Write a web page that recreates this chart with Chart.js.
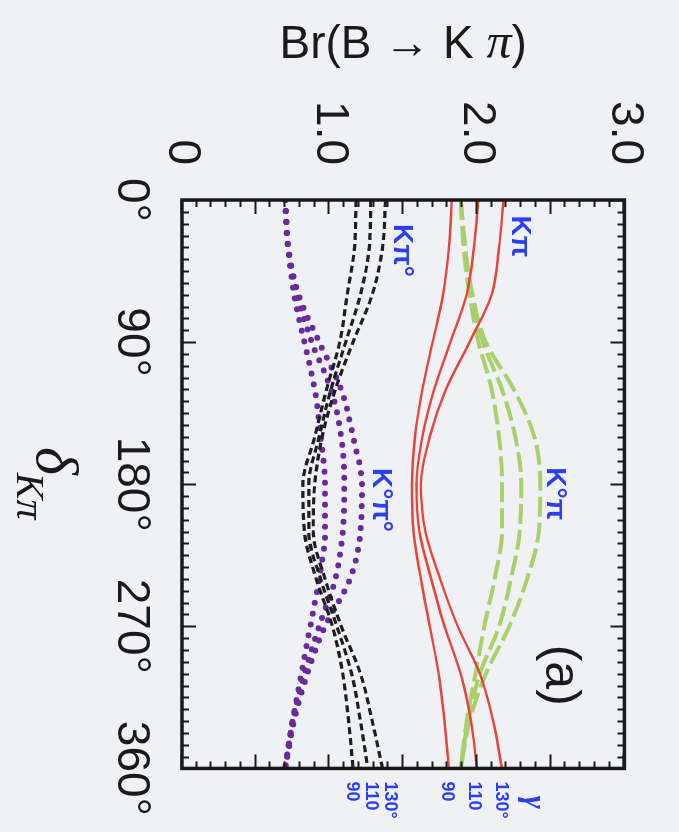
<!DOCTYPE html>
<html>
<head>
<meta charset="utf-8">
<script src="https://cdn.jsdelivr.net/npm/chart.js@4.4.0/dist/chart.umd.min.js"></script>
<style>
  html, body { margin: 0; padding: 0; background: #eff1f5; overflow: hidden; }
  /* the figure is drawn upright, then turned a quarter clockwise like the scan */
  #wrap { position: absolute; left: 0; top: 0; width: 832px; height: 679px;
          transform-origin: 0 0; transform: translate(679px, 0) rotate(90deg); }
</style>
</head>
<body>
<div id="wrap"><canvas id="kpiChart" width="832" height="679"></canvas></div>
<script>
// strong phase delta (deg)
const deltas = [0, 30, 60, 90, 120, 150, 180, 210, 240, 270, 300, 330, 360];

// Br(K+ pi-), red solid
const kPiA = [1.83, 1.81, 1.77, 1.70, 1.63, 1.58, 1.56, 1.57, 1.62, 1.68, 1.74, 1.78, 1.81];
const kPiB = [2.01, 1.98, 1.93, 1.82, 1.71, 1.63, 1.59, 1.61, 1.69, 1.78, 1.89, 1.96, 2.00];
const kPiC = [2.18, 2.15, 2.10, 1.95, 1.79, 1.68, 1.62, 1.65, 1.75, 1.87, 2.02, 2.11, 2.17];

// Br(K0 pi+), green dashed
const k0PiA = [1.89, 1.91, 1.95, 2.01, 2.10, 2.15, 2.17, 2.17, 2.12, 2.05, 1.99, 1.93, 1.89];
const k0PiB = [1.89, 1.92, 1.96, 2.04, 2.17, 2.26, 2.30, 2.29, 2.23, 2.15, 2.02, 1.94, 1.89];
const k0PiC = [1.89, 1.92, 1.97, 2.06, 2.25, 2.39, 2.43, 2.42, 2.34, 2.22, 2.06, 1.95, 1.89];

// Br(K+ pi0), black dashed
const kPi0A = [1.18, 1.17, 1.12, 1.07, 0.98, 0.90, 0.82, 0.83, 0.91, 1.02, 1.09, 1.13, 1.16];
const kPi0B = [1.28, 1.27, 1.21, 1.11, 1.01, 0.93, 0.86, 0.86, 0.94, 1.05, 1.15, 1.21, 1.26];
const kPi0C = [1.38, 1.36, 1.29, 1.16, 1.04, 0.95, 0.90, 0.89, 0.97, 1.08, 1.21, 1.29, 1.36];

// Br(K0 pi0), purple dotted
const k0Pi0A = [0.70, 0.72, 0.76, 0.83, 0.90, 0.94, 0.97, 0.97, 0.93, 0.87, 0.81, 0.75, 0.70];
const k0Pi0B = [0.70, 0.72, 0.78, 0.88, 1.01, 1.08, 1.10, 1.09, 1.04, 0.93, 0.83, 0.75, 0.70];
const k0Pi0C = [0.70, 0.72, 0.79, 0.93, 1.08, 1.16, 1.22, 1.21, 1.14, 0.97, 0.85, 0.76, 0.70];

const deltaTicks = [0, 90, 180, 270, 360];
const brTicks = [0, 1, 2, 3];
const gammaLabels = ['90', '110', '130°'];

const BLUE = '#2b3ff2';
const SANS = '"Liberation Sans", Arial, sans-serif';
const SERIF = '"Liberation Serif", "Times New Roman", serif';

function pts(arr) {
    return deltas.map((d, i) => ({ x: d, y: arr[i] }));
}

function curve(arr, style) {
    return Object.assign({
        data: pts(arr),
        pointRadius: 0,
        fill: false,
        cubicInterpolationMode: 'monotone'
    }, style);
}

const red = { borderColor: '#e8443a', borderWidth: 2.4 };
const green = { borderColor: '#a8d06c', borderWidth: 4, borderDash: [20, 6] };
const black = { borderColor: '#1e1e1e', borderWidth: 3.2, borderDash: [7, 4] };
const purple = { borderColor: '#6b2a9b', borderWidth: 6, borderDash: [0, 11], borderCapStyle: 'round' };

// frame, inner ticks and all the hand placed text
const decorations = {
    id: 'decorations',
    afterDraw(chart) {
        const { ctx, chartArea: a, scales: { x, y } } = chart;
        ctx.save();
        ctx.strokeStyle = '#1a1a1a';
        ctx.lineWidth = 2;
        ctx.beginPath();
        for (let d = 0; d <= 360; d += 7.5) {
            const px = Math.round(x.getPixelForValue(d)) + 0.5;
            const len = d % 90 === 0 ? 14 : 7;
            ctx.moveTo(px, a.bottom); ctx.lineTo(px, a.bottom - len);
            ctx.moveTo(px, a.top); ctx.lineTo(px, a.top + len);
        }
        for (let i = 0; i <= 30; i++) {
            const py = Math.round(y.getPixelForValue(i / 10)) + 0.5;
            const len = i % 5 === 0 ? 14 : 7;
            ctx.moveTo(a.left, py); ctx.lineTo(a.left + len, py);
            ctx.moveTo(a.right, py); ctx.lineTo(a.right - len, py);
        }
        ctx.stroke();
        ctx.lineWidth = 3.5;
        ctx.strokeRect(a.left, a.top, a.right - a.left, a.bottom - a.top);

        // y title, Br(B -> K pi)
        ctx.fillStyle = '#1a1a1a';
        ctx.save();
        ctx.translate(45, (a.top + a.bottom) / 2);
        ctx.rotate(-Math.PI / 2);
        ctx.textBaseline = 'middle';
        const parts = [['Br(B \u2192 K ', '46px ' + SANS], ['\u03c0', 'italic 50px ' + SERIF], [')', '46px ' + SANS]];
        let total = 0;
        parts.forEach(p => { ctx.font = p[1]; total += ctx.measureText(p[0]).width; });
        let cx = -total / 2;
        parts.forEach(p => { ctx.font = p[1]; ctx.fillText(p[0], cx, 0); cx += ctx.measureText(p[0]).width; });
        ctx.restore();

        // x title, delta_{K pi}
        const tx = (a.left + a.right) / 2;
        ctx.textBaseline = 'alphabetic';
        ctx.font = 'italic 60px ' + SERIF;
        const wd = ctx.measureText('\u03b4').width;
        ctx.font = 'italic 40px ' + SERIF;
        const ws = ctx.measureText('K\u03c0').width;
        ctx.font = 'italic 60px ' + SERIF;
        ctx.fillText('\u03b4', tx - (wd + ws) / 2, 642);
        ctx.font = 'italic 40px ' + SERIF;
        ctx.fillText('K\u03c0', tx - (wd + ws) / 2 + wd - 2, 662);

        // panel tag
        ctx.font = '50px ' + SANS;
        ctx.textAlign = 'center';
        ctx.textBaseline = 'middle';
        ctx.fillText('(a)', x.getPixelForValue(301), y.getPixelForValue(2.56));

        // curve names
        ctx.fillStyle = BLUE;
        ctx.font = 'bold 28px ' + SANS;
        ctx.fillText('K\u03c0', x.getPixelForValue(23), y.getPixelForValue(2.29));
        ctx.fillText('K\u03c0\u00b0', x.getPixelForValue(32), y.getPixelForValue(1.49));
        ctx.fillText('K\u00b0\u03c0\u00b0', x.getPixelForValue(190), y.getPixelForValue(1.35));
        ctx.fillText('K\u00b0\u03c0', x.getPixelForValue(186), y.getPixelForValue(2.53));

        // gamma values at the right ends
        ctx.textAlign = 'left';
        ctx.font = 'bold 18px ' + SANS;
        const ux = a.right + 13;
        [1.15, 1.28, 1.41].forEach((b, i) => ctx.fillText(gammaLabels[i], ux, y.getPixelForValue(b)));
        [1.80, 1.98, 2.16].forEach((b, i) => ctx.fillText(gammaLabels[i], ux, y.getPixelForValue(b)));
        ctx.font = 'bold italic 32px ' + SERIF;
        ctx.fillText('\u03b3', ux + 14, y.getPixelForValue(2.38));
        ctx.restore();
    }
};

new Chart(document.getElementById('kpiChart'), {
    type: 'line',
    data: {
        datasets: [
            curve(kPiA, red), curve(kPiB, red), curve(kPiC, red),
            curve(k0PiA, green), curve(k0PiB, green), curve(k0PiC, green),
            curve(kPi0A, black), curve(kPi0B, black), curve(kPi0C, black),
            curve(k0Pi0A, purple), curve(k0Pi0B, purple), curve(k0Pi0C, purple)
        ]
    },
    options: {
        responsive: false,
        animation: false,
        events: [],
        layout: { padding: { left: 0, top: 39, right: 62, bottom: 0 } },
        plugins: { legend: { display: false }, tooltip: { enabled: false } },
        scales: {
            x: {
                type: 'linear',
                min: 0,
                max: 360,
                afterBuildTicks: s => { s.ticks = deltaTicks.map(v => ({ value: v })); },
                afterFit: s => { s.height = 182; },
                grid: { display: false },
                border: { display: false },
                ticks: {
                    color: '#1a1a1a',
                    padding: 16,
                    maxRotation: 0,
                    font: { family: SANS, size: 46 },
                    callback: v => v + '\u00b0'
                }
            },
            y: {
                type: 'linear',
                min: 0,
                max: 3,
                afterBuildTicks: s => { s.ticks = brTicks.map(v => ({ value: v })); },
                afterFit: s => { s.width = 200; },
                grid: { display: false },
                border: { display: false },
                ticks: {
                    color: '#1a1a1a',
                    padding: 27,
                    font: { family: SANS, size: 46 },
                    callback: v => v === 0 ? '0' : v.toFixed(1)
                }
            }
        }
    },
    plugins: [decorations]
});
</script>
</body>
</html>
